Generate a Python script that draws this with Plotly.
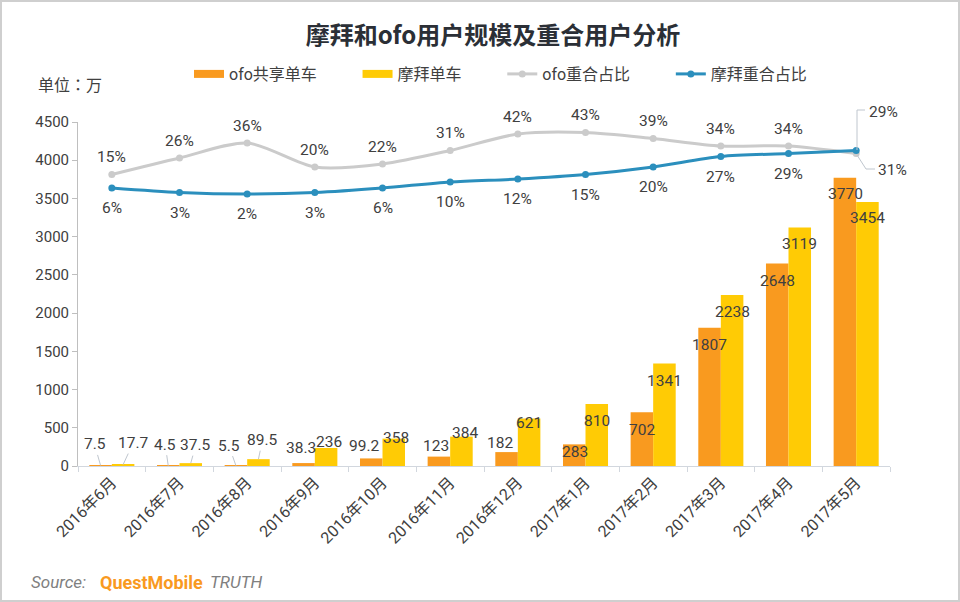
import plotly.graph_objects as go

FONT = "Roboto, 'Noto Sans CJK SC', sans-serif"
TEXT = "#404040"
categories = ["2016年6月", "2016年7月", "2016年8月", "2016年9月", "2016年10月", "2016年11月",
              "2016年12月", "2017年1月", "2017年2月", "2017年3月", "2017年4月", "2017年5月"]
ofo_users = [7.5, 4.5, 5.5, 38.3, 99.2, 123, 182, 283, 702, 1807, 2648, 3770]
mobike_users = [17.7, 37.5, 89.5, 236, 358, 384, 621, 810, 1341, 2238, 3119, 3454]
ofo_overlap = [15, 26, 36, 20, 22, 31, 42, 43, 39, 34, 34, 29]
mobike_overlap = [6, 3, 2, 3, 6, 10, 12, 15, 20, 27, 29, 31]

W, H = 960, 602
L, R, T, B = 78, 70, 122, 136
PW, PH = W - L - R, H - T - B
def px(x): return (x - L) / PW
def py(y): return (H - B - y) / PH

# label nudges in pixels relative to the bar top (dx, up)
ofo_off = [(-6, 21), (-3, 21), (-7, 20), (-2.5, 15), (-7, 12), (-3, 10.6), (-7, 9), (1, -7.6), (0, -17.7), (0, -17), (0, -17.4), (0.5, -16)]
mob_off = [(10, 21.6), (5, 18), (4, 19), (3, 6), (2, 0.6), (4, 3.6), (0, -4.5), (0, -17), (0, -17.5), (0, -17), (0, -16.4), (0, -16)]
LEADER_COUNT = 3

fig = go.Figure()
fig.add_bar(x=categories, y=ofo_users, marker=dict(color="#F99A1F", line_width=0), showlegend=False, name="ofo共享单车")
fig.add_bar(x=categories, y=mobike_users, marker=dict(color="#FFCB05", line_width=0), showlegend=False, name="摩拜单车")
pad = "\u00a0"
fig.add_scatter(x=[None], y=[None], mode="lines", line=dict(color="#F99A1F", width=8), name="ofo共享单车" + pad * 9)
fig.add_scatter(x=[None], y=[None], mode="lines", line=dict(color="#FFCB05", width=8), name="摩拜单车" + pad * 9)
fig.add_scatter(x=categories, y=ofo_overlap, yaxis="y2", mode="lines+markers", name="ofo重合占比" + pad * 9,
                line=dict(color="#CBCBCB", width=3, shape="spline", smoothing=0.8), marker=dict(color="#CBCBCB", size=7))
fig.add_scatter(x=categories, y=mobike_overlap, yaxis="y2", mode="lines+markers", name="摩拜重合占比",
                line=dict(color="#2B8FBD", width=3, shape="spline", smoothing=0.8), marker=dict(color="#2B8FBD", size=7))

ann = []
font = dict(family=FONT, size=15.5, color=TEXT)
for i, (a, b) in enumerate(zip(ofo_users, mobike_users)):
    for v, off, sign in ((a, ofo_off[i], -1), (b, mob_off[i], 1)):
        base = dict(x=i + sign * 0.1665, y=v, xref="x", yref="y", text=str(v), font=font)
        if i < LEADER_COUNT:
            ann.append(dict(base, showarrow=True, arrowhead=0, arrowwidth=1, arrowcolor="#BFC6CE",
                            ax=off[0], ay=-off[1], standoff=0))
        else:
            ann.append(dict(base, showarrow=False, xshift=off[0], yshift=off[1]))
n = len(categories)
for i, (a, b) in enumerate(zip(ofo_overlap, mobike_overlap)):
    g = (27, 42) if i == n - 1 else (0, 17.5)
    m = (36, -19.5) if i == n - 1 else (0, -20)
    ann.append(dict(x=i, y=a, xref="x", yref="y2", text=f"{a}%", font=font, showarrow=False, xshift=g[0], yshift=g[1]))
    ann.append(dict(x=i, y=b, xref="x", yref="y2", text=f"{b}%", font=font, showarrow=False, xshift=m[0], yshift=m[1]))

ann += [
    dict(x=px(36), y=py(84), xref="paper", yref="paper", xanchor="left", yanchor="middle", text="单位：万", showarrow=False,
         font=dict(family="'Noto Sans CJK TC', Roboto, sans-serif", size=16, color=TEXT)),
    dict(x=px(29), y=py(582), xref="paper", yref="paper", xanchor="left", yanchor="middle", text="<i>Source:</i>", showarrow=False,
         font=dict(family=FONT, size=17, color="#808080")),
    dict(x=px(98), y=py(582), xref="paper", yref="paper", xanchor="left", yanchor="middle", text="<b>QuestMobile</b>", showarrow=False,
         font=dict(family=FONT, size=18, color="#F99A1F")),
    dict(x=px(208), y=py(582), xref="paper", yref="paper", xanchor="left", yanchor="middle", text="<i>TRUTH</i>", showarrow=False,
         font=dict(family=FONT, size=17, color="#808080")),
]

def path(points):
    return "M" + " L".join(f"{px(x)},{py(y)}" for x, y in points)

shapes = [
    dict(type="rect", xref="paper", yref="paper", x0=px(1), x1=px(W - 1), y0=py(H - 1), y1=py(1),
         line=dict(color="#CFCFCF", width=2), layer="below"),
    dict(type="path", xref="paper", yref="paper", path=path([(857, 150), (857, 110), (865, 110)]),
         line=dict(color="#BFC6CE", width=1)),
    dict(type="path", xref="paper", yref="paper", path=path([(857, 155), (866, 169), (875, 169)]),
         line=dict(color="#BFC6CE", width=1)),
]

fig.update_layout(
    template="none",
    width=W, height=H, autosize=False, margin=dict(l=L, r=R, t=T, b=B, pad=0),
    paper_bgcolor="white", plot_bgcolor="white", barmode="group", bargap=0.334, bargroupgap=0,
    font=dict(family=FONT, size=15, color=TEXT),
    title=dict(text="<b>摩拜和ofo用户规模及重合用户分析</b>", x=493 / W, xanchor="center", y=1 - 36 / H, yanchor="middle",
               font=dict(family="'Noto Sans CJK SC', Roboto, sans-serif", size=24, color="#2B2F36")),
    legend=dict(orientation="h", x=px(189), xanchor="left", y=py(74), yanchor="middle", bgcolor="rgba(0,0,0,0)",
                traceorder="normal", font=dict(family=FONT, size=16, color=TEXT), itemwidth=30),
    xaxis=dict(type="category", categoryorder="array", categoryarray=categories, automargin=False,
               range=[-0.5, len(categories) - 0.5], layer="below traces",
               tickson="boundaries", ticks="outside", ticklen=5, tickcolor="#D2D7DE", showline=True,
               linecolor="#D2D7DE", linewidth=1, showgrid=False, tickangle=-45, zeroline=False,
               tickfont=dict(family=FONT, size=16, color=TEXT)),
    yaxis=dict(range=[0, 4500], dtick=500, ticks="outside", ticklen=5, tickcolor="#BFBFBF", showline=True,
               linecolor="#BFBFBF", linewidth=1, showgrid=False, zeroline=False, automargin=False,
               layer="below traces", tickfont=dict(family=FONT, size=15, color=TEXT)),
    yaxis2=dict(overlaying="y", range=[-179.33, 50], visible=False, showgrid=False, automargin=False),
    annotations=ann, shapes=shapes, hovermode=False,
)
fig.write_html("out.html", post_script="document.body.style.margin='0';", config=dict(displayModeBar=False))
